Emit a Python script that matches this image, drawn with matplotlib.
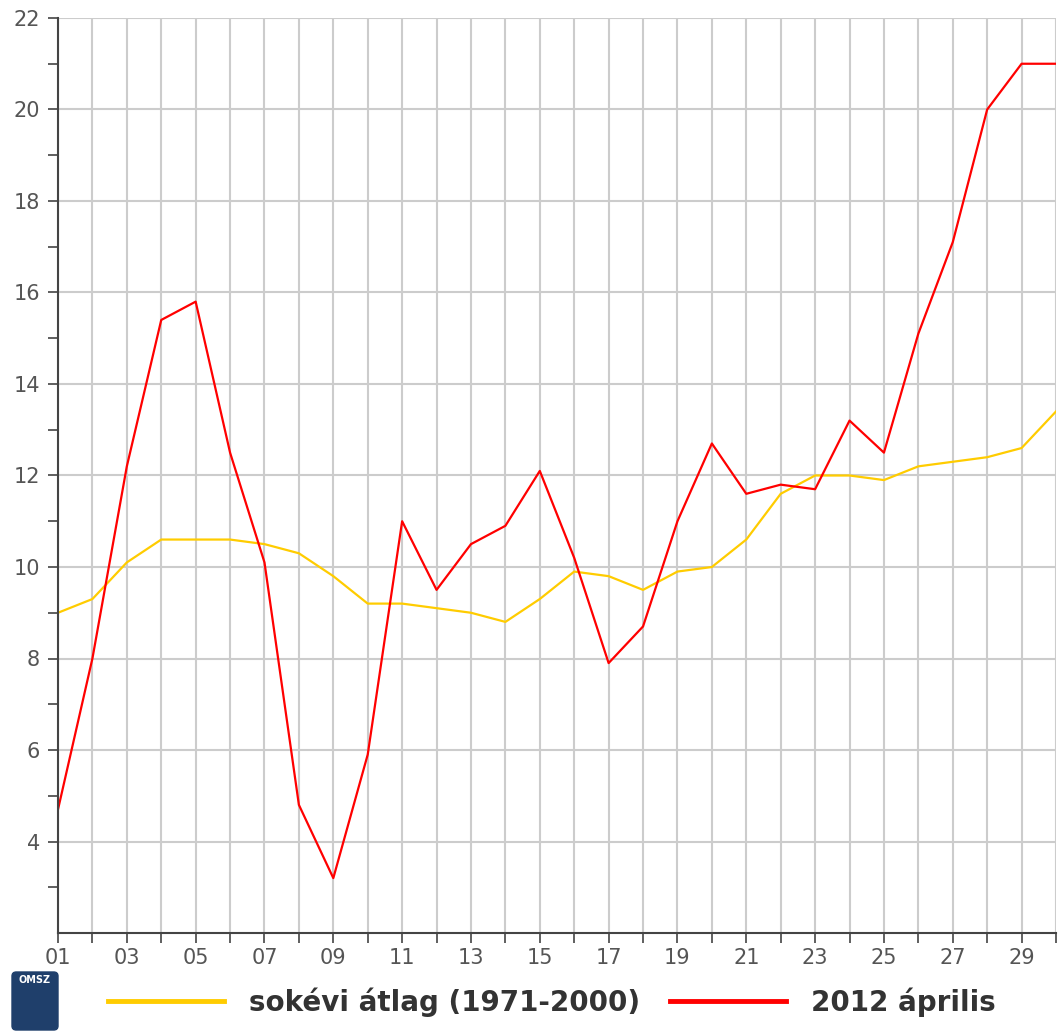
import matplotlib.pyplot as plt
import numpy as np
from matplotlib.patches import FancyBboxPatch

days = np.arange(1, 31)
avg_1971_2000 = [9.0, 9.3, 10.1, 10.6, 10.6, 10.6, 10.5, 10.3, 9.8, 9.2,
                 9.2, 9.1, 9.0, 8.8, 9.3, 9.9, 9.8, 9.5, 9.9, 10.0,
                 10.6, 11.6, 12.0, 12.0, 11.9, 12.2, 12.3, 12.4, 12.6, 13.4]
apr_2012 = [4.7, 8.0, 12.2, 15.4, 15.8, 12.5, 10.1, 4.8, 3.2, 5.9,
            11.0, 9.5, 10.5, 10.9, 12.1, 10.2, 7.9, 8.7, 11.0, 12.7,
            11.6, 11.8, 11.7, 13.2, 12.5, 15.1, 17.1, 20.0, 21.0, 21.0]
labels = ["sokévi átlag (1971-2000)", "2012 április"]

fig = plt.figure(figsize=(10.58, 10.34), dpi=100)
ax = fig.add_axes([58 / 1058, 1 - 933 / 1034, 998 / 1058, 915 / 1034])

ax.plot(days, avg_1971_2000, color="#ffcc00", lw=1.6, label=labels[0])
ax.plot(days, apr_2012, color="#ff0000", lw=1.6, label=labels[1])

ax.set_xlim(1, 30)
ax.set_ylim(2, 22)
ax.set_xticks(days)
ax.set_xticklabels([f"{d:02d}" if d % 2 else "" for d in days])
ax.set_yticks(np.arange(4, 23, 2))
ax.set_yticks(np.arange(3, 22, 1), minor=True)

ax.grid(True, which="major", color="#cccccc", lw=1.5)
ax.set_axisbelow(True)
for s in ["top", "right"]:
    ax.spines[s].set_visible(False)
for s in ["left", "bottom"]:
    ax.spines[s].set_color("#444444")
    ax.spines[s].set_linewidth(1.5)
ax.tick_params(which="both", color="#444444", width=1.2, labelcolor="#555555", labelsize=15)
ax.tick_params(which="major", length=7, pad=6)
ax.tick_params(which="minor", length=7)
ax.tick_params(axis="x", pad=4)

fig.legend(loc="center", bbox_to_anchor=(552 / 1058, 1 - 1002 / 1034), ncol=2,
           frameon=False, handlelength=4.2, columnspacing=1.05, handletextpad=0.9,
           prop={"weight": "bold", "size": 20}, labelcolor="#333333")
for h in fig.legends[0].get_lines():
    h.set_linewidth(3.5)

# OMSZ badge
badge = FancyBboxPatch((12 / 1058, 1 - 1030 / 1034), 46 / 1058, 58 / 1034,
                       boxstyle="round,pad=0,rounding_size=0.004",
                       transform=fig.transFigure, color="#1f3f6b")
fig.patches.append(badge)
fig.text(35 / 1058, 1 - 980 / 1034, "OMSZ", color="white", fontsize=7,
         ha="center", va="center", weight="bold")

fig.savefig("out.png", dpi=100)
